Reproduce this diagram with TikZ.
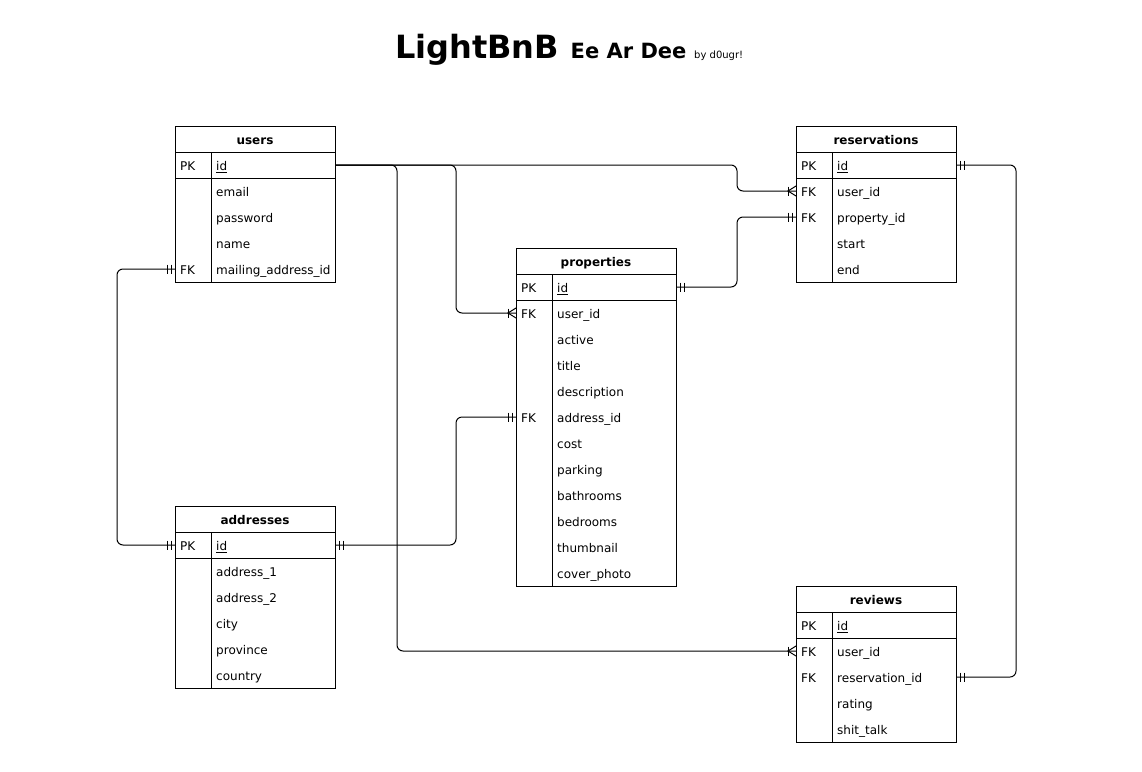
\documentclass[tikz,border=0pt]{standalone}
\usepackage{fontspec}
\setmainfont{DejaVu Sans}
\usetikzlibrary{calc}
\tikzset{
  rowbox/.style={rectangle, minimum width=160pt, minimum height=26pt, inner sep=0pt, outer sep=0pt},
  keytxt/.style={anchor=base west, inner sep=0pt, font=\fontsize{12}{14}\selectfont},
  fldtxt/.style={anchor=base west, inner sep=0pt, font=\fontsize{12}{14}\selectfont},
  hdrtxt/.style={anchor=base, inner sep=0pt, font=\fontsize{12}{14}\selectfont\bfseries},
  frame/.style={draw, line width=1pt},
  conn/.style={line width=1pt, rounded corners=6pt},
  ermark/.style={line width=1pt},
}
\newcommand{\ertable}[6]{% #1 name, #2 x, #3 y, #4 title, #5 n rows, #6 rows
  \node[rowbox] (#1) at (#2+80,#3+13) {};
  \node[hdrtxt] at ([yshift=-5pt]#1.center) {#4};
  \foreach \k/\f [count=\i] in {#6} {
    \node[rowbox] (#1-\i) at (#2+80,#3+13+26*\i) {};
    \node[keytxt] at ([xshift=5pt,yshift=-5.5pt]#1-\i.west) {\k};
    \node[fldtxt] at ([xshift=41pt,yshift=-5.5pt]#1-\i.west) {\f};
  }
  \draw[frame] (#2,#3) rectangle (#2+160,#3+26*#5+26);
  \draw[frame] (#2,#3+26) -- (#2+160,#3+26);
  \draw[frame] (#2,#3+52) -- (#2+160,#3+52);
  \draw[frame] (#2+36,#3+26) -- (#2+36,#3+26*#5+26);
}
\newcommand{\mandone}[2]{% anchor, direction
  \draw[ermark] ([xshift=#2*4pt,yshift=4.5pt]#1) -- ++(0,9);
  \draw[ermark] ([xshift=#2*8pt,yshift=4.5pt]#1) -- ++(0,9);
}
\newcommand{\crowmany}[1]{%
  \draw[ermark] ([xshift=-8pt,yshift=4.5pt]#1) -- ++(0,9);
  \draw[ermark] ([yshift=5pt]#1) -- ([xshift=-8pt]#1) -- ([yshift=-5pt]#1);
}
\begin{document}
\begin{tikzpicture}[x=1pt,y=-1pt]
\fill[white] (0,0) rectangle (1142,771);
\useasboundingbox (0,0) rectangle (1142,771);

% title
\node[anchor=base west, inner sep=0pt, font=\fontsize{32}{36}\selectfont\bfseries] (t1) at (395,58) {LightBnB};
\node[anchor=base west, inner sep=0pt, font=\fontsize{21}{24}\selectfont\bfseries] (t2) at (570.5,58) {Ee Ar Dee};
\node[anchor=base west, inner sep=0pt, font=\fontsize{10}{12}\selectfont] (t3) at (694,58) {by d0ugr!};

% tables
\ertable{users}{175}{126}{users}{5}{PK/\underline{id}, {}/email, {}/password, {}/name, FK/mailing\_address\_id}
\ertable{res}{796}{126}{reservations}{5}{PK/\underline{id}, FK/user\_id, FK/property\_id, {}/start, {}/end}
\ertable{prop}{516}{248}{properties}{12}{PK/\underline{id}, FK/user\_id, {}/active, {}/title, {}/description, FK/address\_id, {}/cost, {}/parking, {}/bathrooms, {}/bedrooms, {}/thumbnail, {}/cover\_photo}
\ertable{addr}{175}{506}{addresses}{6}{PK/\underline{id}, {}/address\_1, {}/address\_2, {}/city, {}/province, {}/country}
\ertable{rev}{796}{586}{reviews}{5}{PK/\underline{id}, FK/user\_id, FK/reservation\_id, {}/rating, {}/shit\_talk}

% connectors
\draw[conn] (users-1.east) -| ([xshift=-59pt]res-2.west) -- (res-2.west);
\draw[conn] (users-1.east) -| ([xshift=-60pt]prop-2.west) -- (prop-2.west);
\draw[conn] (users-1.east) -| ([xshift=-399pt]rev-2.west) -- (rev-2.west);
\draw[conn] (users-5.west) -- ([xshift=-58pt]users-5.west) |- (addr-1.west);
\draw[conn] (addr-1.east) -| ([xshift=-60pt]prop-6.west) -- (prop-6.west);
\draw[conn] (prop-1.east) -| ([xshift=-59pt]res-3.west) -- (res-3.west);
\draw[conn] (res-1.east) -| ([xshift=60pt]rev-3.east) -- (rev-3.east);

% markers
\crowmany{res-2.west}
\crowmany{prop-2.west}
\crowmany{rev-2.west}
\mandone{users-5.west}{-1}
\mandone{addr-1.west}{-1}
\mandone{addr-1.east}{1}
\mandone{prop-6.west}{-1}
\mandone{prop-1.east}{1}
\mandone{res-3.west}{-1}
\mandone{res-1.east}{1}
\mandone{rev-3.east}{1}
\end{tikzpicture}
\end{document}
